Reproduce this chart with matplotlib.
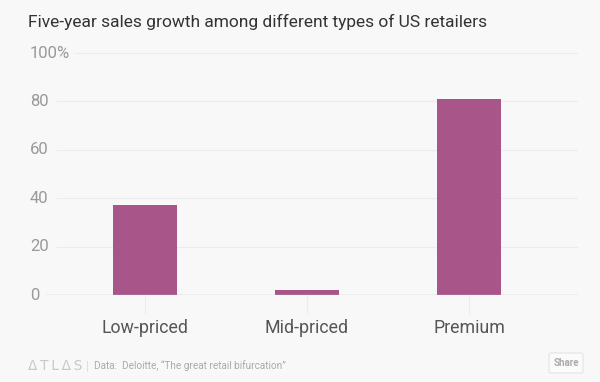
import matplotlib
matplotlib.use("Agg")
import matplotlib.pyplot as plt
from matplotlib.patches import FancyBboxPatch

categories = ["Low-priced", "Mid-priced", "Premium"]
values = [37, 2, 81]
yticks = [0, 20, 40, 60, 80, 100]
ytick_labels = ["0", "20", "40", "60", "80", "100%"]

plt.rcParams['font.family'] = ['Roboto', 'DejaVu Sans']
BG = "#f8f8f8"
fig = plt.figure(figsize=(6, 3.82), dpi=100, facecolor=BG)
ax = fig.add_axes([30/600, (382-295)/382, 548/600, (295-53)/382])
ax.set_facecolor(BG)
ax.set_xlim(-115/162, 2 + 109/162)
ax.set_ylim(0, 100)
for s in ax.spines.values():
    s.set_visible(False)
ax.set_yticks([])

x = list(range(len(categories)))
ax.bar(x, values, width=64/162, color="#a8568a", zorder=3)
ax.set_xticks(x)
ax.set_xticklabels([])
ax.tick_params(axis="x", length=14, width=0.8, color="#ececec", direction="out")

# gridlines and y labels
label_end = {0: 16/548, 20: 27/548, 40: 27/548, 60: 27/548, 80: 27/548, 100: 45/548}
for t, lab in zip(yticks, ytick_labels):
    ax.text(0.0, t, lab, transform=ax.get_yaxis_transform(), ha="left", va="center",
            fontsize=12, color="#999999")
    if t == 0:
        ax.axhline(t, xmin=label_end[t], xmax=1, color="#bbbbbb", lw=1, zorder=4)
    else:
        ax.axhline(t, xmin=label_end[t], xmax=1, color="#ececec", lw=0.8, zorder=1)

for xi, c in zip(x, categories):
    ax.text(xi, -13.5, c, ha="center", va="center", fontsize=12.8, color="#555555", clip_on=False)

fig.text(28/600, 1 - 22/382, "Five-year sales growth among different types of US retailers",
         ha="left", va="center", fontsize=12.5, color="#333333")

fig.text(28/600, 1 - 366/382, "\u0394\u2009T\u2009L\u2009\u0394\u2009S", ha="left", va="center", fontsize=9.8,
         color="#c8c8c8", family=['DejaVu Sans'])
fig.text(86/600, 1 - 366/382, "|", ha="left", va="center", fontsize=9, color="#dddddd")
fig.text(94/600, 1 - 366/382, "Data:  Deloitte, \u201cThe great retail bifurcation\u201d",
         ha="left", va="center", fontsize=7.2, color="#aaaaaa")

btn = FancyBboxPatch((549/600, 1 - 373/382), 34/600, 20/382, boxstyle="round,pad=0,rounding_size=0.004",
                     transform=fig.transFigure, facecolor="#fbfbfb", edgecolor="#e3e3e3", lw=0.8)
fig.patches.append(btn)
fig.text(566/600, 1 - 363/382, "Share", ha="center", va="center", fontsize=7, color="#aaaaaa",
         fontweight="bold")

fig.savefig("out.png", dpi=100, facecolor=BG)
